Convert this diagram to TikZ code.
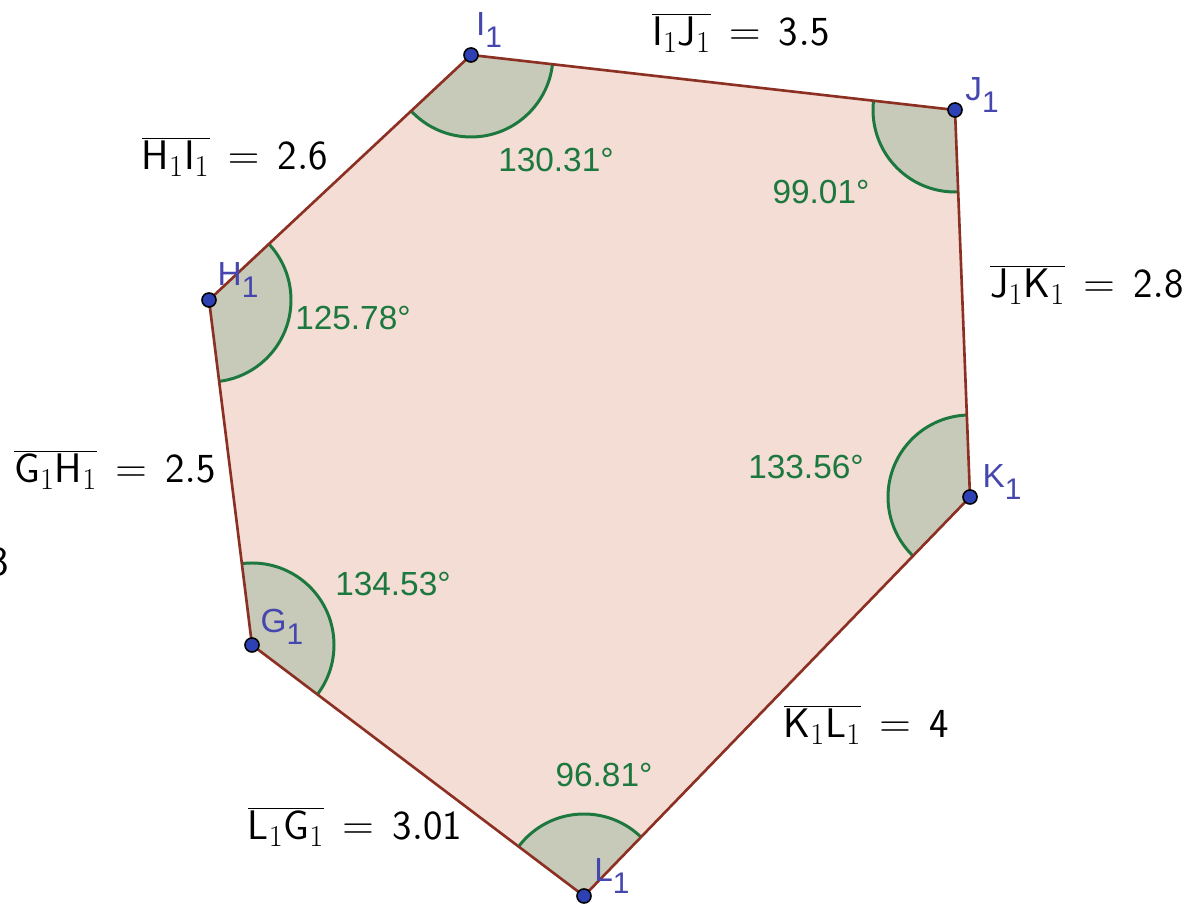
\documentclass[tikz,border=0pt]{standalone}
\usepackage{fontspec}
\newfontfamily\geo{Liberation Sans}
\definecolor{polyfill}{RGB}{243,221,212}
\definecolor{secfill}{RGB}{199,202,184}
\definecolor{arcgreen}{RGB}{28,120,62}
\definecolor{edgered}{RGB}{140,48,36}
\definecolor{ptblue}{RGB}{45,65,180}
\definecolor{lblblue}{RGB}{70,70,175}
\newcommand{\vsub}[1]{\raisebox{-7pt}{\fontsize{17}{17}\selectfont #1}}
\newcommand{\seglab}[3]{$\overline{\mathsf{#1}_1\mathsf{#2}_1}\mkern2.5mu=\mkern2.5mu\mathsf{#3}$}
\begin{document}
\begin{tikzpicture}[x=0.02cm,y=0.02cm,
  edge/.style={draw=edgered,line width=1.5pt,line join=round},
  sector/.style={fill=secfill,draw=arcgreen,line width=1.7pt},
  pt/.style={circle,fill=ptblue,draw=black,line width=0.9pt,minimum size=8pt,inner sep=0pt},
  vlab/.style={inner sep=0pt,text=lblblue,font=\geo\fontsize{19}{19}\selectfont},
  alab/.style={inner sep=0pt,text=arcgreen,font=\geo\fontsize{19}{19}\selectfont},
  slab/.style={inner sep=0pt,text=black,font=\fontsize{23.5}{28}\selectfont}]
\useasboundingbox (0,0) rectangle (1195,911);
% vertices
\coordinate (G1) at (252,266);
\coordinate (H1) at (209,611);
\coordinate (I1) at (471,856);
\coordinate (J1) at (955,801);
\coordinate (K1) at (970,414);
\coordinate (L1) at (584,15);
% polygon fill
\fill[polyfill] (G1)--(H1)--(I1)--(J1)--(K1)--(L1)--cycle;
% angle sectors
\begin{scope}
  \clip (G1)--(H1)--(I1)--(J1)--(K1)--(L1)--cycle;
  \foreach \v in {G1,H1,I1,J1,K1,L1}
    \filldraw[sector] (\v) circle[radius=82];
\end{scope}
% edges
\draw[edge] (G1)--(H1)--(I1)--(J1)--(K1)--(L1)--cycle;
% points
\foreach \v in {G1,H1,I1,J1,K1,L1}
  \node[pt] (p\v) at (\v) {};
% vertex labels
\node[vlab] (lI1) at (489,881) {I\vsub{1}};
\node[vlab] (lJ1) at (982,816) {J\vsub{1}};
\node[vlab] (lH1) at (238,631) {H\vsub{1}};
\node[vlab] (lK1) at (1002,429) {K\vsub{1}};
\node[vlab] (lG1) at (282,284) {G\vsub{1}};
\node[vlab] (lL1) at (612,35) {L\vsub{1}};
% angle labels
\node[alab] (aI1) at (556,751) {130.31°};
\node[alab] (aJ1) at (821,719) {99.01°};
\node[alab] (aH1) at (353,593) {125.78°};
\node[alab] (aK1) at (806,444) {133.56°};
\node[alab] (aG1) at (393,327) {134.53°};
\node[alab] (aL1) at (604,136) {96.81°};
% segment labels
\node[slab] (sIJ) at (741,878) {\seglab{I}{J}{3.5}};
\node[slab] (sHI) at (235,754) {\seglab{H}{I}{2.6}};
\node[slab] (sJK) at (1087,626) {\seglab{J}{K}{2.8}};
\node[slab] (sGH) at (115,441) {\seglab{G}{H}{2.5}};
\node[slab] (sKL) at (866,186) {\seglab{K}{L}{4}};
\node[slab] (sLG) at (355,84) {\seglab{L}{G}{3.01}};
% partial label at the left edge (cut off in the original too)
\node[slab,anchor=east] (cut) at (9,349) {$\mathsf{3}$};
\end{tikzpicture}
\end{document}
